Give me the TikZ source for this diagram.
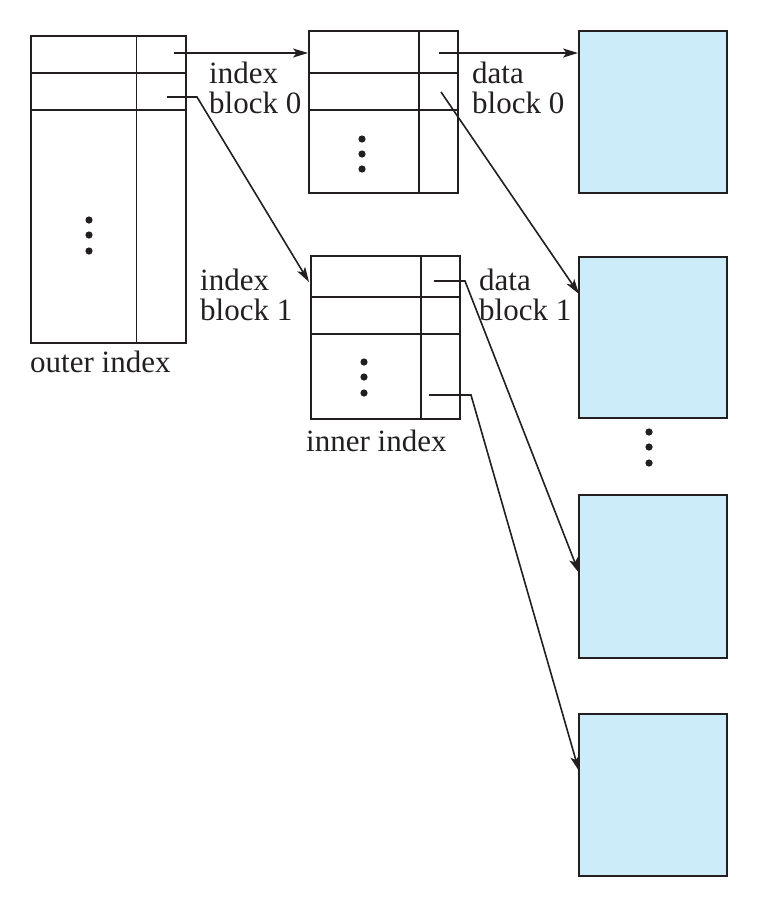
\documentclass[tikz,border=0pt]{standalone}
\usepackage{fontspec}
\setmainfont{Liberation Serif}
\usetikzlibrary{arrows.meta}
\definecolor{datablue}{RGB}{204,236,250}
\definecolor{ink}{RGB}{35,31,32}
\begin{document}
\begin{tikzpicture}[x=1pt,y=-1pt,
  blk/.style={draw=ink, line width=1.9pt, rectangle, inner sep=0pt},
  datablk/.style={blk, fill=datablue, minimum width=148pt},
  sep/.style={draw=ink, line width=1.9pt},
  arr/.style={draw=ink, line width=1.6pt, -{Stealth[length=15pt,width=9pt,inset=3.5pt]}},
  lbl/.style={anchor=base west, inner sep=0pt, text=ink, font=\fontsize{31}{30}\selectfont},
  dot/.style={fill=ink}]
\useasboundingbox (0,0) rectangle (759,908);

% outer index
\node[blk, minimum width=155pt, minimum height=307pt] (outer) at (108.5,189.5) {};
\draw[sep] (136.5,36) -- (136.5,343);
\draw[sep] (31,73) -- (186,73);
\draw[sep] (31,110) -- (186,110);
\foreach \yy in {220,235,251} \fill[dot] (89,\yy) circle (3.6pt);

% index block 0
\node[blk, minimum width=149pt, minimum height=162pt] (ib0) at (383.5,112) {};
\draw[sep] (419,31) -- (419,193);
\draw[sep] (309,73) -- (458,73);
\draw[sep] (309,110) -- (458,110);
\foreach \yy in {139,154,169} \fill[dot] (362,\yy) circle (3.6pt);

% inner index (index block 1)
\node[blk, minimum width=149pt, minimum height=163pt] (inner) at (385.5,337.5) {};
\draw[sep] (421,256) -- (421,419);
\draw[sep] (311,297) -- (460,297);
\draw[sep] (311,334) -- (460,334);
\foreach \yy in {362,377,393} \fill[dot] (364,\yy) circle (3.6pt);

% data blocks
\node[datablk, minimum height=162pt] (d0) at (653,112) {};
\node[datablk, minimum height=161pt] (d1) at (653,337.5) {};
\node[datablk, minimum height=163pt] (d2) at (653,576.5) {};
\node[datablk, minimum height=162pt] (d3) at (653,795) {};
\foreach \yy in {432,447,463} \fill[dot] (649,\yy) circle (3.6pt);

% labels
\node[lbl] (lidx0a) at (209,83) {index};
\node[lbl] (lidx0b) at (209,113) {block 0};
\node[lbl] (ldat0a) at (472,83) {data};
\node[lbl] (ldat0b) at (472,113) {block 0};
\node[lbl] (lidx1a) at (200,290) {index};
\node[lbl] (lidx1b) at (200,320) {block 1};
\node[lbl] (ldat1a) at (479,290) {data};
\node[lbl] (ldat1b) at (479,320) {block 1};
\node[lbl] (louter) at (30,372) {outer index};
\node[lbl] (linner) at (306,451) {inner index};

% connector start points and tips
\coordinate (o0) at (174,53);
\coordinate (o1) at (167,97);
\coordinate (o1b) at (197,97);
\coordinate (t1) at (309,282);
\coordinate (b0) at (439,53);
\coordinate (b1) at (441,92);
\coordinate (t2) at (579,294);
\coordinate (n0) at (434,281);
\coordinate (n0b) at (465,281);
\coordinate (t3) at (579,573);
\coordinate (n1) at (429,395);
\coordinate (n1b) at (471,395);
\coordinate (t4) at (579,771);

\draw[arr] (o0) -- (ib0.west |- o0);
\draw[arr] (o1) -- (o1b) -- (t1);
\draw[arr] (b0) -- (d0.west |- b0);
\draw[arr] (b1) -- (t2);
\draw[arr] (n0) -- (n0b) -- (t3);
\draw[arr] (n1) -- (n1b) -- (t4);
\end{tikzpicture}
\end{document}
